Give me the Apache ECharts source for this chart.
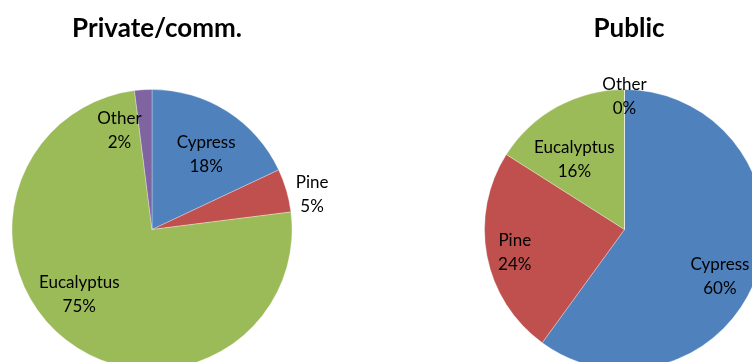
<!DOCTYPE html>
<html>
<head>
<meta charset="utf-8">
<script src="https://cdn.jsdelivr.net/npm/echarts@6/dist/echarts.min.js"></script>
<style>
html,body{margin:0;padding:0;background:#fff;}
#main{width:752px;height:362px;}
</style>
</head>
<body>
<div id="main"></div>
<script>
// Data
var categories = ['Cypress', 'Pine', 'Eucalyptus', 'Other'];
var privateValues = [18, 5, 75, 2];
var publicValues = [60, 24, 16, 0];
var titles = ['Private/comm.', 'Public'];

// Styles
var colors = ['#4F81BD', '#C0504D', '#9BBB59', '#8064A2'];
var FONT = 'Lato';
var privateLabelOffsets = [[15, -13], [90, -15], [-28, 7], [-28, -26]];
var publicLabelOffsets = [[26, 24], [-38, 9], [-15, -6], [0, -60]];

function buildData(values, offsets) {
  return categories.map(function (c, i) {
    return {
      name: c,
      value: values[i],
      itemStyle: { color: colors[i] },
      label: { offset: offsets[i] }
    };
  });
}

function pieSeries(values, offsets, center) {
  return {
    type: 'pie',
    radius: 140,
    center: center,
    startAngle: 90,
    clockwise: true,
    avoidLabelOverlap: false,
    minShowLabelAngle: -1,
    silent: true,
    itemStyle: { borderColor: 'rgba(255,255,255,0.6)', borderWidth: 0.5 },
    label: {
      show: true,
      position: 'inside',
      formatter: '{b}\n{d}%',
      color: '#000',
      fontFamily: FONT,
      fontSize: 17,
      lineHeight: 24,
      align: 'center'
    },
    labelLine: { show: false },
    emphasis: { disabled: true },
    animation: false,
    data: buildData(values, offsets)
  };
}

var chart = echarts.init(document.getElementById('main'), null, { renderer: 'canvas' });
chart.setOption({
  backgroundColor: '#fff',
  animation: false,
  title: [
    { text: titles[0], left: 152, top: 11, textAlign: 'center',
      textStyle: { fontFamily: FONT, fontWeight: 'bold', fontSize: 26, color: '#000' } },
    { text: titles[1], left: 624, top: 11, textAlign: 'center',
      textStyle: { fontFamily: FONT, fontWeight: 'bold', fontSize: 26, color: '#000' } }
  ],
  series: [
    pieSeries(privateValues, privateLabelOffsets, [152, 229.5]),
    pieSeries(publicValues, publicLabelOffsets, [624.5, 229.5])
  ]
});
</script>
</body>
</html>
